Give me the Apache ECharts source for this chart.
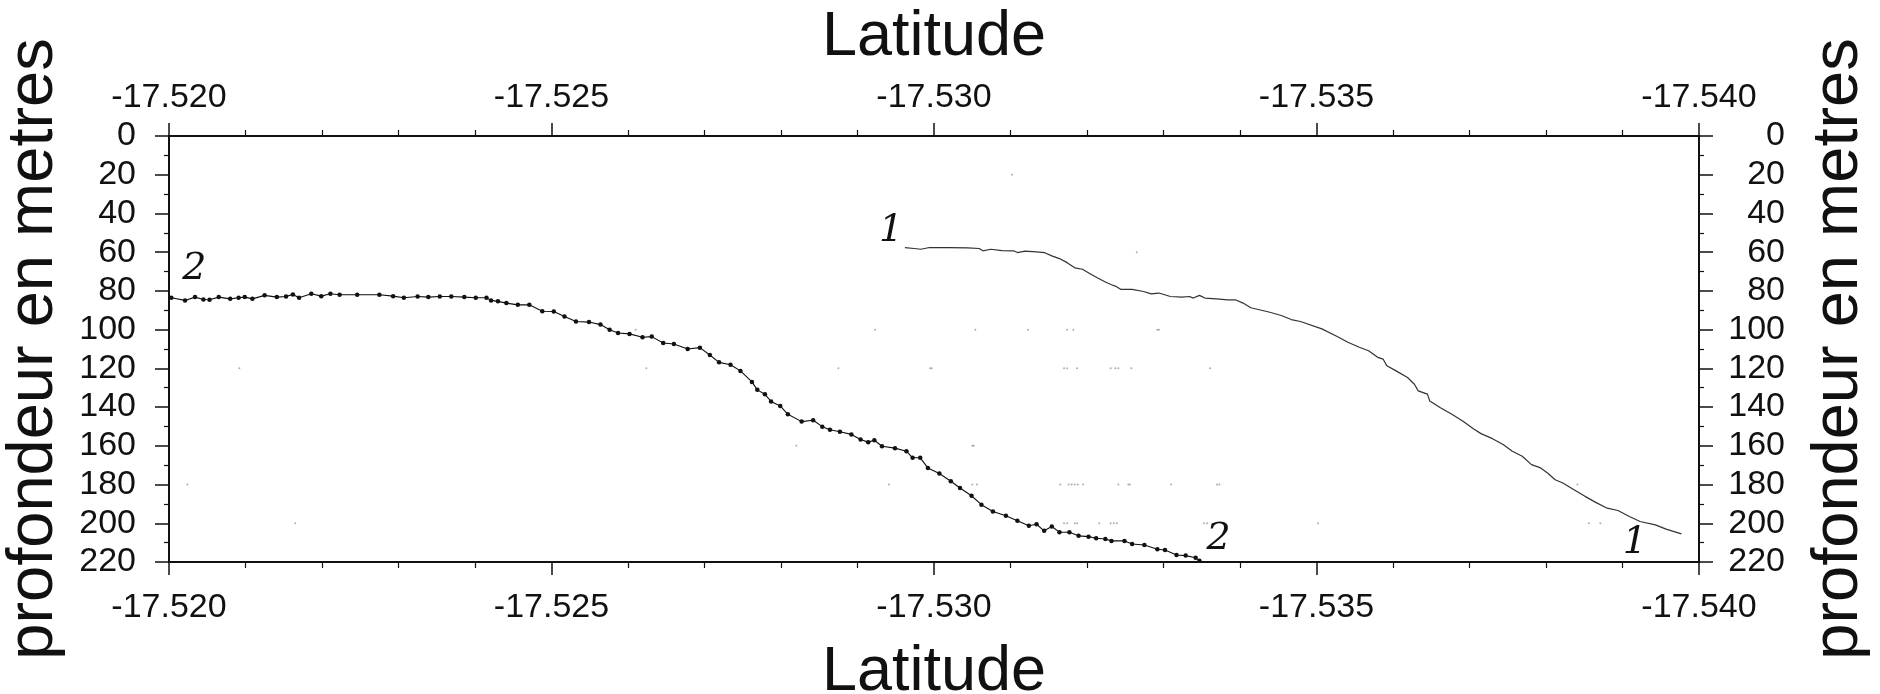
<!DOCTYPE html>
<html>
<head>
<meta charset="utf-8">
<script src="https://cdn.jsdelivr.net/npm/echarts@6/dist/echarts.min.js"></script>
<style>
  html, body { margin: 0; padding: 0; background: #fff; }
  #chart { width: 1880px; height: 694px; }
</style>
</head>
<body>
<div id="chart"></div>
<script>
// axis ranges (latitude runs from -17.520 on the left to -17.540 on the right)
const LAT_MIN = -17.540
const LAT_MAX = -17.520
const LAT_STEP = 0.005
const DEPTH_MIN = 0
const DEPTH_MAX = 220
const DEPTH_STEP = 20

// profil 1 (trait fin)
const lat1 = [-17.52962, -17.52974, -17.52983, -17.52994, -17.53019, -17.53044, -17.53059, -17.53064,
  -17.53074, -17.53089, -17.53104, -17.53109, -17.53119, -17.53134, -17.53144, -17.53154, -17.53164,
  -17.53174, -17.53184, -17.53194, -17.53204, -17.53214, -17.53224, -17.53232, -17.53237, -17.53244,
  -17.53259, -17.53274, -17.53284, -17.53294, -17.53309, -17.53324, -17.53334, -17.53339, -17.53347,
  -17.53354, -17.53369, -17.53384, -17.53394, -17.53404, -17.53414, -17.53424, -17.53439, -17.53454,
  -17.53467, -17.53479, -17.53507, -17.53527, -17.53541, -17.53556, -17.53568, -17.53580, -17.53587,
  -17.53592, -17.53604, -17.53619, -17.53628, -17.53633, -17.53645, -17.53648, -17.53662, -17.53677,
  -17.53691, -17.53706, -17.53715, -17.53730, -17.53744, -17.53756, -17.53769, -17.53781, -17.53793,
  -17.53802, -17.53812, -17.53822, -17.53836, -17.53851, -17.53865, -17.53880, -17.53894, -17.53909,
  -17.53923, -17.53943, -17.53957, -17.53977]
const depth1 = [57.6, 58.1, 58.5, 57.6, 57.6, 57.8, 58.1, 59.3,
  58.5, 59.2, 59.3, 60.2, 59.5, 59.8, 60.2, 61.9, 63.3,
  65.4, 68.1, 68.8, 71.1, 73.3, 75.4, 76.8, 77.5, 79.2,
  79.2, 80.3, 81.5, 81.1, 82.9, 83.2, 82.9, 83.7, 82.3,
  83.7, 84.1, 84.6, 84.6, 86.3, 88.7, 89.6, 91.0, 92.7,
  94.8, 95.8, 99.6, 103.5, 106.5, 109.1, 110.9, 114.3, 115.2,
  118.7, 121.3, 124.7, 128.2, 131.6, 133.3, 136.8, 140.3, 143.7,
  147.2, 151.5, 153.7, 156.3, 159.3, 162.8, 165.4, 169.7, 171.4,
  174.0, 177.5, 179.2, 182.6, 186.1, 189.2, 192.2, 193.4, 196.5,
  199.1, 200.8, 203.0, 205.5]

// profil 2 (points de sonde)
const lat2 = [-17.52003, -17.52021, -17.52034, -17.52045, -17.52053, -17.52065, -17.52080, -17.52091,
  -17.52099, -17.52109, -17.52125, -17.52141, -17.52153, -17.52162, -17.52170, -17.52186, -17.52199,
  -17.52211, -17.52223, -17.52246, -17.52275, -17.52293, -17.52307, -17.52325, -17.52339, -17.52354,
  -17.52369, -17.52386, -17.52401, -17.52415, -17.52421, -17.52430, -17.52441, -17.52456, -17.52471,
  -17.52488, -17.52503, -17.52517, -17.52532, -17.52549, -17.52564, -17.52576, -17.52587, -17.52602,
  -17.52619, -17.52631, -17.52646, -17.52660, -17.52678, -17.52694, -17.52707, -17.52719, -17.52734,
  -17.52747, -17.52762, -17.52769, -17.52779, -17.52787, -17.52799, -17.52809, -17.52827, -17.52842,
  -17.52854, -17.52864, -17.52877, -17.52892, -17.52904, -17.52914, -17.52922, -17.52932, -17.52949,
  -17.52964, -17.52972, -17.52982, -17.52992, -17.53007, -17.53022, -17.53034, -17.53049, -17.53062,
  -17.53077, -17.53094, -17.53109, -17.53124, -17.53134, -17.53144, -17.53154, -17.53164, -17.53177,
  -17.53189, -17.53202, -17.53212, -17.53224, -17.53232, -17.53249, -17.53259, -17.53275, -17.53292,
  -17.53302, -17.53317, -17.53329, -17.53342, -17.53347]
const depth2 = [83.5, 84.9, 83.2, 84.4, 84.6, 83.2, 84.1, 83.5,
  83.2, 84.1, 82.3, 83.2, 82.9, 81.8, 83.5, 81.5, 82.7,
  81.5, 82.0, 82.0, 82.0, 82.7, 83.5, 82.9, 83.2, 82.9,
  82.9, 83.2, 83.5, 83.5, 84.9, 85.4, 86.3, 87.2, 87.2,
  90.5, 90.6, 93.2, 95.8, 96.1, 97.4, 100.1, 101.7, 102.2,
  103.9, 103.6, 106.9, 107.4, 110.0, 109.3, 113.1, 116.9, 118.1,
  121.3, 127.0, 131.1, 133.4, 137.1, 139.4, 143.7, 147.5, 146.8,
  150.1, 151.7, 152.7, 154.1, 156.7, 158.1, 157.1, 160.2, 161.2,
  162.8, 166.2, 166.2, 171.4, 174.3, 178.3, 181.8, 185.8, 190.4,
  193.9, 196.1, 198.7, 201.3, 200.5, 203.9, 201.7, 204.6, 204.6,
  206.5, 206.9, 207.7, 208.1, 209.1, 209.1, 210.7, 211.2, 213.4,
  213.8, 216.4, 216.7, 217.8, 219.3]

// petites taches du fond
const speckLat = [-17.52610, -17.52923, -17.53054, -17.53123, -17.53174, -17.53182, -17.53292, -17.53294,
  -17.52092, -17.52624, -17.52875, -17.52995, -17.52997, -17.53170, -17.53174, -17.53187, -17.53231,
  -17.53237, -17.53241, -17.53258, -17.53361, -17.53265, -17.53102, -17.52820, -17.53050, -17.53052,
  -17.52024, -17.52941, -17.53050, -17.53056, -17.53165, -17.53176, -17.53180, -17.53184, -17.53188,
  -17.53195, -17.53241, -17.53254, -17.53256, -17.53310, -17.53370, -17.53373, -17.53841, -17.52165,
  -17.53170, -17.53174, -17.53184, -17.53187, -17.53216, -17.53231, -17.53235, -17.53239, -17.53353,
  -17.53357, -17.53502, -17.53856, -17.53871]
const speckDepth = [100, 100, 100, 100, 100, 100, 100, 100,
  120, 120, 120, 120, 120, 120, 120, 120, 120,
  120, 120, 120, 120, 60, 20, 160, 160, 160,
  180, 180, 180, 180, 180, 180, 180, 180, 180,
  180, 180, 180, 180, 180, 180, 180, 180, 200,
  200, 200, 200, 200, 200, 200, 200, 200, 200,
  200, 200, 200, 200]

const FONT = '"Liberation Sans", Arial, Helvetica, sans-serif'
const INK = '#111'

const zip = (xs, ys) => xs.map((x, i) => [x, ys[i]])

function latAxis(position, labelMargin, nameGap) {
  return {
    type: 'value',
    position: position,
    min: LAT_MIN,
    max: LAT_MAX,
    interval: LAT_STEP,
    inverse: true,
    name: 'Latitude',
    nameLocation: 'middle',
    nameGap: nameGap,
    nameMoveOverlap: false,
    nameTextStyle: { fontFamily: FONT, fontSize: 63, color: INK },
    axisLine: { show: true, onZero: false, lineStyle: { color: INK, width: 2 } },
    axisTick: { show: true, length: 13, lineStyle: { color: INK, width: 1.5 } },
    minorTick: { show: true, splitNumber: 5, length: 6, lineStyle: { color: INK, width: 1.2 } },
    axisLabel: {
      margin: labelMargin, fontFamily: FONT, fontSize: 34, color: INK,
      formatter: v => v.toFixed(3)
    },
    splitLine: { show: false },
    minorSplitLine: { show: false }
  }
}

function depthAxis(position, labelMargin, nameGap, align) {
  return {
    type: 'value',
    position: position,
    min: DEPTH_MIN,
    max: DEPTH_MAX,
    interval: DEPTH_STEP,
    inverse: true,
    name: 'profondeur en metres',
    nameLocation: 'middle',
    nameGap: nameGap,
    nameRotate: 90,
    nameMoveOverlap: false,
    nameTextStyle: { fontFamily: FONT, fontSize: 65, color: INK },
    axisLine: { show: true, onZero: false, lineStyle: { color: INK, width: 2 } },
    axisTick: { show: true, length: 14, lineStyle: { color: INK, width: 1.5 } },
    minorTick: { show: true, splitNumber: 2, length: 5, lineStyle: { color: INK, width: 1.2 } },
    axisLabel: { margin: labelMargin, fontFamily: FONT, fontSize: 34, color: INK, align: align },
    splitLine: { show: false },
    minorSplitLine: { show: false }
  }
}

// étiquettes manuscrites posées aux extrémités des profils
function handLabels(points) {
  return {
    symbol: 'circle',
    symbolSize: 1,
    itemStyle: { color: 'rgba(0,0,0,0)' },
    label: {
      show: true, position: 'inside', formatter: '{b}',
      fontFamily: '"DejaVu Serif", "Liberation Serif", serif', fontStyle: 'italic',
      fontSize: 38, color: INK
    },
    data: points
  }
}

const chart = echarts.init(document.getElementById('chart'))
chart.setOption({
  animation: false,
  backgroundColor: '#fff',
  grid: { left: 169, right: 181, top: 136, bottom: 132, containLabel: false, outerBoundsMode: 'none' },
  xAxis: [latAxis('top', 21, 67), latAxis('bottom', 29, 79)],
  yAxis: [depthAxis('left', 33, 102, 'right'), depthAxis('right', 86, 108, 'right')],
  series: [
    {
      name: '1',
      type: 'line',
      xAxisIndex: 1,
      yAxisIndex: 0,
      data: zip(lat1, depth1),
      symbol: 'none',
      lineStyle: { color: '#333', width: 1.2 },
      markPoint: handLabels([
        { name: '1', coord: [-17.52944, 49] },
        { name: '1', coord: [-17.53916, 210] }
      ])
    },
    {
      name: '2',
      type: 'line',
      xAxisIndex: 1,
      yAxisIndex: 0,
      data: zip(lat2, depth2),
      symbol: 'circle',
      symbolSize: 4.5,
      itemStyle: { color: INK },
      lineStyle: { color: INK, width: 1.1 },
      markPoint: handLabels([
        { name: '2', coord: [-17.52033, 69] },
        { name: '2', coord: [-17.53372, 208] }
      ])
    },
    {
      name: 'taches',
      type: 'scatter',
      xAxisIndex: 1,
      yAxisIndex: 0,
      data: zip(speckLat, speckDepth),
      symbolSize: 2,
      itemStyle: { color: '#999' },
      silent: true
    }
  ]
})
</script>
</body>
</html>
